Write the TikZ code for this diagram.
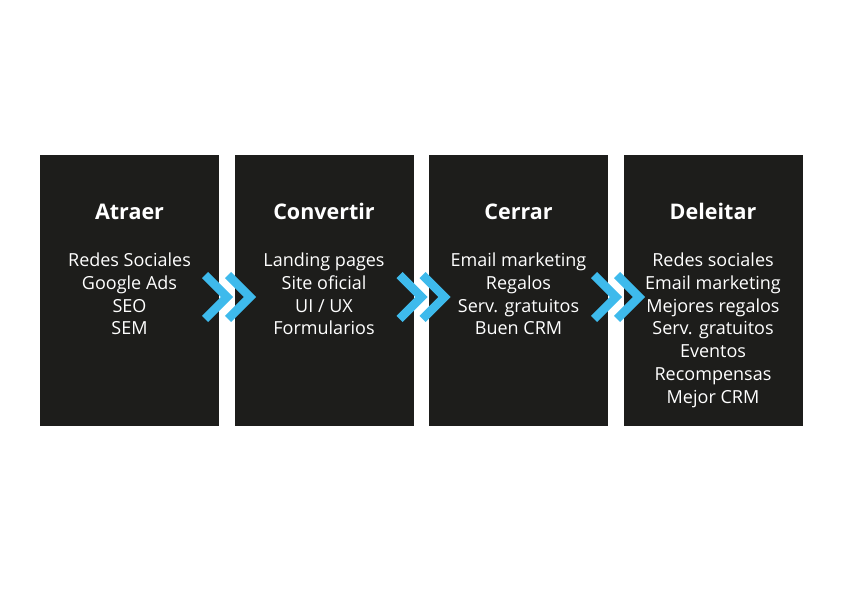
\documentclass[tikz,border=0pt]{standalone}
\usepackage{fontspec}
\setmainfont{Open Sans}
\definecolor{stagebg}{HTML}{1D1D1B}
\definecolor{arrowblue}{HTML}{3EBAEC}
\begin{document}
\begin{tikzpicture}[x=1pt,y=-1pt,
 stage/.style={fill=stagebg,minimum width=179pt,minimum height=271pt,inner sep=0pt,anchor=north west},
 title/.style={text=white,anchor=base,font=\fontsize{21.5}{26}\selectfont\bfseries},
 items/.style={text=white,align=center,anchor=north,inner sep=0pt,font=\fontsize{18}{22.7}\selectfont},
 chev/.style={draw=arrowblue,line width=8.5pt,miter limit=10}]
\useasboundingbox (0,0) rectangle (843,596);
% stages
\node[stage] (atraer) at (40,155) {};
\node[stage] (convertir) at (234.5,155) {};
\node[stage] (cerrar) at (429,155) {};
\node[stage] (deleitar) at (623.5,155) {};
% titles
\node[title] (atraerT) at (129.5,219) {Atraer};
\node[title] (convertirT) at (324,219) {Convertir};
\node[title] (cerrarT) at (518.5,219) {Cerrar};
\node[title] (deleitarT) at (713,219) {Deleitar};
% lists
\node[items] (atraerL) at (129.5,253) {Redes Sociales\\Google Ads\\SEO\\SEM};
\node[items] (convertirL) at (324,253) {Landing pages\\Site oficial\\UI / UX\\Formularios};
\node[items] (cerrarL) at (518.5,253) {Email marketing\\Regalos\\Serv. gratuitos\\Buen CRM};
\node[items] (deleitarL) at (713,253) {Redes sociales\\Email marketing\\Mejores regalos\\Serv. gratuitos\\Eventos\\Recompensas\\Mejor CRM};
% chevrons between stages
\foreach \i in {0,1,2}
 \foreach \d in {0,23}
  \draw[chev] (205+194.5*\i+\d,275) -- ++(22,22) -- ++(-22,22);
\end{tikzpicture}
\end{document}
